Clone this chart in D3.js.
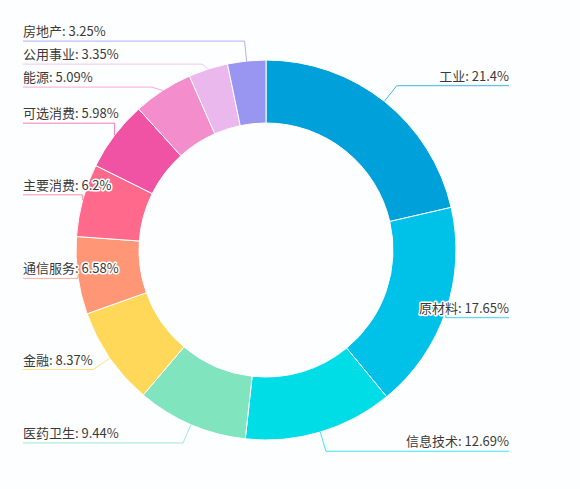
<!DOCTYPE html>
<html>
<head>
<meta charset="utf-8">
<script src="https://cdn.jsdelivr.net/npm/d3@7"></script>
<style>
  body { margin: 0; background: #fdfeff; }
  text { font-family: "Noto Sans CJK SC", "Noto Sans", sans-serif; }
</style>
</head>
<body>
<div id="chart"></div>
<script>
// sector weights, clockwise from 12 o'clock
var sectors = ['工业', '原材料', '信息技术', '医药卫生', '金融', '通信服务',
               '主要消费', '可选消费', '能源', '公用事业', '房地产'];
var shares = [21.4, 17.65, 12.69, 9.44, 8.37, 6.58, 6.2, 5.98, 5.09, 3.35, 3.25];
var colors = ['#00a0da', '#00c2e8', '#00dde6', '#80e4be', '#ffd85a', '#ff9676',
              '#ff6a8c', '#f052a4', '#f38dcc', '#eab8ec', '#9896f0'];

var width = 580, height = 489;
var cx = 266, cy = 250;
var outerR = 190, innerR = 127;
var lineLen = 20;        // first segment of the label line
var leftEdge = 23, rightEdge = 509;
var labelH = 23;         // min vertical gap between labels

var svg = d3.select('#chart')
    .append('svg')
    .attr('width', width)
    .attr('height', height)
    .style('display', 'block');

var data = sectors.map(function(s, i) {
    return { name: s, value: shares[i], color: colors[i] };
});

var pie = d3.pie()
    .sort(null)
    .value(function(d) { return d.value; });

var arcs = pie(data);

var arc = d3.arc()
    .innerRadius(innerR)
    .outerRadius(outerR);

svg.append('g')
    .attr('transform', 'translate(' + cx + ',' + cy + ')')
    .selectAll('path')
    .data(arcs)
    .enter()
    .append('path')
        .attr('d', arc)
        .attr('fill', function(d) { return d.data.color; })
        .attr('stroke', '#fff')
        .attr('stroke-width', 1);

function polar(r, a) {
    return [cx + r * Math.sin(a), cy - r * Math.cos(a)];
}

// label anchor points
var labels = arcs.map(function(d) {
    var mid = (d.startAngle + d.endAngle) / 2;
    var p1 = polar(outerR, mid);
    var p2 = polar(outerR + lineLen, mid);
    return {
        d: d,
        right: Math.sin(mid) >= 0,
        p1: p1,
        knee: [p2[0], p2[1]],
        y: p2[1]
    };
});

// push overlapping labels down on each side
[true, false].forEach(function(side) {
    var list = labels.filter(function(l) { return l.right === side; })
        .sort(function(a, b) { return a.y - b.y; });
    for (var i = 1; i < list.length; i++) {
        if (list[i].y < list[i - 1].y + labelH) list[i].y = list[i - 1].y + labelH;
    }
});

var lineLayer = svg.append('g');
var textLayer = svg.append('g');

var texts = textLayer.selectAll('text')
    .data(labels)
    .enter()
    .append('text')
        .attr('x', function(l) { return l.right ? rightEdge : leftEdge; })
        .attr('y', function(l) { return l.y - 5; })
        .attr('text-anchor', function(l) { return l.right ? 'end' : 'start'; })
        .attr('font-size', 13)
        .attr('fill', '#3a3a3a')
        .attr('stroke', '#fff')
        .attr('stroke-width', 3)
        .attr('stroke-linejoin', 'round')
        .style('paint-order', 'stroke')
        .text(function(l) { return l.d.data.name + ': ' + l.d.data.value + '%'; });

texts.each(function(l) {
    var w = this.getComputedTextLength();
    var innerX = l.right ? rightEdge - w : leftEdge + w;
    var knee = [l.knee[0], l.y];
    // keep the turn at the knee from being acute
    var v1x = l.p1[0] - knee[0], v1y = l.p1[1] - knee[1];
    var v2x = innerX - knee[0];
    if (v1x * v2x > 0) {
        var t = (l.p1[0] - knee[0]) / (innerX - knee[0]);
        if (t > 1) knee = [innerX, l.y];
        else knee = [l.p1[0], l.y];
    }
    l.points = [l.p1, knee, [l.right ? rightEdge : leftEdge, l.y]];
});

lineLayer.selectAll('path')
    .data(labels)
    .enter()
    .append('path')
        .attr('d', function(l) { return d3.line()(l.points); })
        .attr('fill', 'none')
        .attr('stroke', function(l) { return l.d.data.color; })
        .attr('stroke-opacity', 0.75)
        .attr('stroke-width', 1);
</script>
</body>
</html>
